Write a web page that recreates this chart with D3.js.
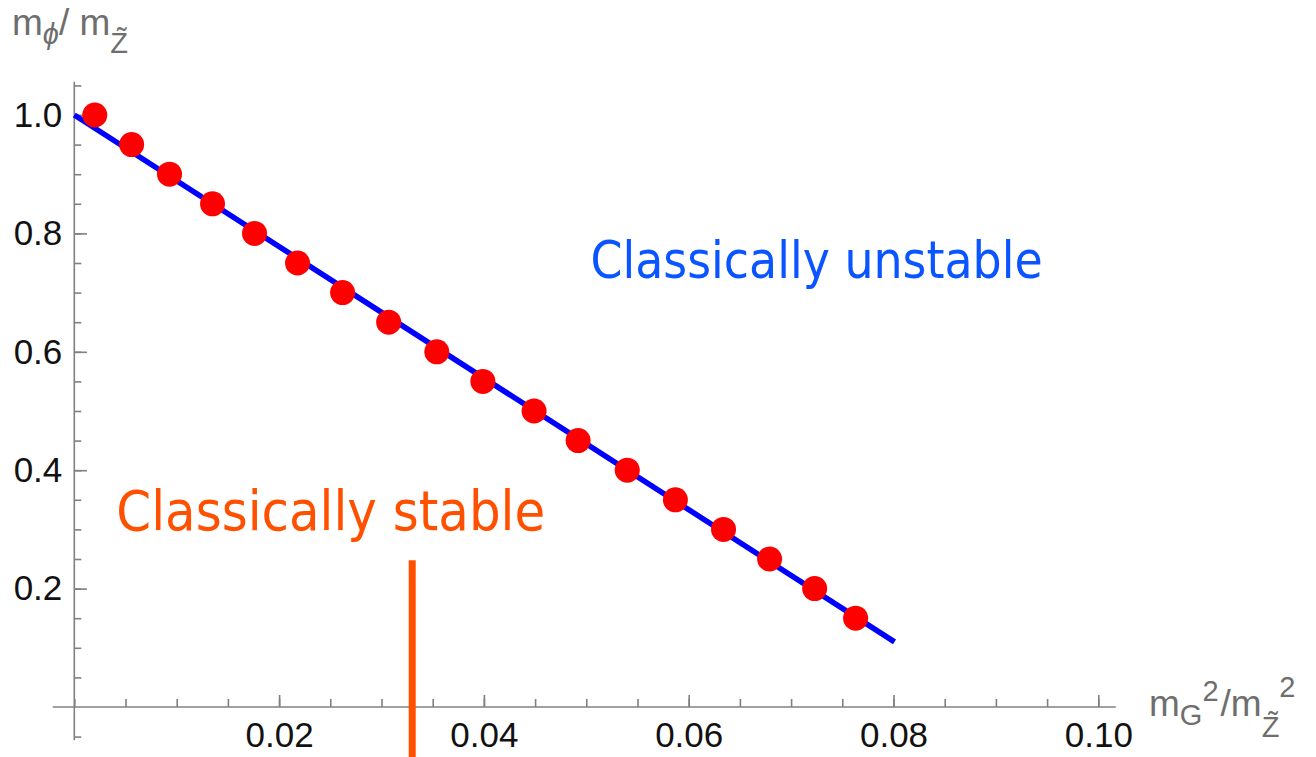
<!DOCTYPE html>
<html>
<head>
<meta charset="utf-8">
<script src="https://cdn.jsdelivr.net/npm/d3@7"></script>
<style>
  body { margin: 0; background: #fff; }
  svg { display: block; }
</style>
</head>
<body>
<div id="chart"></div>
<script>
// values
const ptX = [0.0020, 0.0056, 0.0093, 0.0135, 0.0176, 0.0218, 0.0262, 0.0307, 0.0354,
             0.0399, 0.0449, 0.0492, 0.0540, 0.0587, 0.0634, 0.0679, 0.0723, 0.0763];
const ptY = [1.00, 0.95, 0.90, 0.85, 0.80, 0.75, 0.70, 0.65, 0.60,
             0.55, 0.50, 0.45, 0.40, 0.35, 0.30, 0.25, 0.20, 0.15];
const lineX = [0, 0.0801];
const lineY = [1.0, 0.11];
const stableX = [0.033, 0.033];
const stableY = [0.248, -0.09];
const xTicks = [0.02, 0.04, 0.06, 0.08, 0.10];
const yTicks = [0.2, 0.4, 0.6, 0.8, 1.0];
const xMinor = d3.range(0, 0.1001, 0.005);
const yMinor = [-0.05].concat(d3.range(0.05, 1.051, 0.05));

const width = 1316, height = 757;
let x = d3.scaleLinear().domain([0, 0.1]).range([74.3, 1098.3]);
let y = d3.scaleLinear().domain([0, 1]).range([707, 115]);

let svg = d3.select('#chart').append('svg')
    .attr('width', width)
    .attr('height', height);
svg.append('rect').attr('width', width).attr('height', height).attr('fill', '#fff');

const axisColor = '#808080';
const tickFont = '"Liberation Sans", Arial, sans-serif';

// x axis
let gx = svg.append('g').attr('transform', 'translate(0,' + y(0) + ')');
gx.append('line')
    .attr('x1', x(-0.0021)).attr('x2', x(0.1017))
    .attr('stroke', axisColor).attr('stroke-width', 1.6);
gx.append('g')
    .call(d3.axisBottom(x).tickValues(xMinor).tickSizeInner(-8).tickSizeOuter(0).tickFormat(''))
    .call(g => g.select('.domain').remove());
gx.append('g')
    .call(d3.axisBottom(x).tickValues(xTicks).tickSizeInner(-12).tickSizeOuter(0)
        .tickPadding(15).tickFormat(d3.format('.2f')))
    .call(g => g.select('.domain').remove());

// y axis
let gy = svg.append('g').attr('transform', 'translate(' + x(0) + ',0)');
gy.append('line')
    .attr('y1', y(-0.056)).attr('y2', y(1.056))
    .attr('stroke', axisColor).attr('stroke-width', 1.6);
gy.append('g')
    .call(d3.axisLeft(y).tickValues(yMinor).tickSizeInner(-7).tickSizeOuter(0).tickFormat(''))
    .call(g => g.select('.domain').remove());
gy.append('g')
    .call(d3.axisLeft(y).tickValues(yTicks).tickSizeInner(-12.7).tickSizeOuter(0)
        .tickPadding(12).tickFormat(d3.format('.1f')))
    .call(g => g.select('.domain').remove());

svg.selectAll('.tick line').attr('stroke', axisColor).attr('stroke-width', 1.6);
svg.selectAll('.tick text')
    .attr('fill', '#111')
    .style('font-family', tickFont)
    .style('font-size', '35px');

// boundary line
let line = d3.line().x(d => x(d[0])).y(d => y(d[1]));
svg.append('path')
    .datum(d3.zip(lineX, lineY))
    .attr('d', line)
    .attr('fill', 'none')
    .attr('stroke', '#0000ff')
    .attr('stroke-width', 5.5);

// points
svg.selectAll('.pt')
    .data(d3.zip(ptX, ptY))
    .enter().append('circle')
    .attr('class', 'pt')
    .attr('cx', d => x(d[0]))
    .attr('cy', d => y(d[1]))
    .attr('r', 12.5)
    .attr('fill', '#ff0000');

// stable marker
svg.append('path')
    .datum(d3.zip(stableX, stableY))
    .attr('d', line)
    .attr('stroke', '#ff5000')
    .attr('stroke-width', 7);

// region annotations
const noteFont = '"DejaVu Sans Condensed", "DejaVu Sans", Verdana, sans-serif';
svg.append('text')
    .attr('x', x(0.0504)).attr('y', y(0.725))
    .attr('fill', '#0a55ff')
    .style('font-family', noteFont).style('font-size', '51px')
    .text('Classically unstable');
svg.append('text')
    .attr('x', x(0.0041)).attr('y', y(0.299))
    .attr('fill', '#ff5000')
    .style('font-family', noteFont).style('font-size', '55.5px')
    .text('Classically stable');

// axis labels
const labelFont = '"Liberation Sans", Arial, sans-serif';
let yl = svg.append('text')
    .attr('x', 12).attr('y', 35)
    .attr('fill', '#6e6e6e')
    .style('font-family', labelFont).style('font-size', '37px');
yl.append('tspan').text('m');
yl.append('tspan').attr('dy', 9).style('font-size', '29px').style('font-style', 'italic').text('\u03d5');
yl.append('tspan').attr('dy', -9).text('/ m');
yl.append('tspan').attr('dy', 18).style('font-size', '29px').text('Z\u0303');

let xl = svg.append('text')
    .attr('x', 1149).attr('y', 716)
    .attr('fill', '#6e6e6e')
    .style('font-family', labelFont).style('font-size', '37px');
xl.append('tspan').text('m');
xl.append('tspan').attr('dy', 9).style('font-size', '29px').text('G');
xl.append('tspan').attr('dy', -24).style('font-size', '29px').text('2');
xl.append('tspan').attr('dx', 2).attr('dy', 15).text('/m');
xl.append('tspan').attr('dy', 21).style('font-size', '29px').text('Z\u0303');
xl.append('tspan').attr('dy', -40).style('font-size', '29px').text('2');
</script>
</body>
</html>
